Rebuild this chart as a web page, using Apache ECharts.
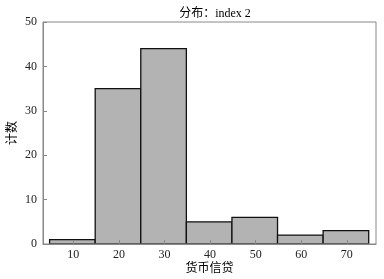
<!DOCTYPE html>
<html><head><meta charset="utf-8">
<script src="https://cdn.jsdelivr.net/npm/echarts@6/dist/echarts.min.js"></script>
<style>html,body{margin:0;padding:0;background:#fff}#c{width:384px;height:279px}</style>
</head><body><div id="c"></div>
<script>
const binEdges = [4.8, 14.8, 24.8, 34.8, 44.8, 54.8, 64.8, 74.8];
const counts = [1, 35, 44, 5, 6, 2, 3];
const xTicks = [10, 20, 30, 40, 50, 60, 70];
const yTicks = [0, 10, 20, 30, 40, 50];
const titleText = '分布：index 2';
const xName = '货币信贷';
const yName = '计数';

const data = counts.map((c, i) => [binEdges[i], binEdges[i + 1], c]);
const font = "'Liberation Serif','Noto Sans CJK SC',serif";
const axisColor = '#888';

const chart = echarts.init(document.getElementById('c'), null, {renderer: 'canvas'});
chart.setOption({
  animation: false,
  title: {text: titleText, left: 210, top: 3, textAlign: 'center',
    textStyle: {fontFamily: font, fontSize: 12, fontWeight: 'normal', color: '#000'}},
  grid: {left: 43, right: 8, top: 22, bottom: 35, outerBoundsMode: 'none', containLabel: false,
    show: true, borderColor: axisColor, borderWidth: 1, z: 10},
  xAxis: {
    type: 'value', min: 3.35, max: 76.4, z: 10,
    name: xName, nameLocation: 'middle', nameGap: 19, nameMoveOverlap: false,
    nameTextStyle: {fontFamily: font, fontSize: 12, color: '#000', verticalAlign: 'top'},
    axisLine: {show: true, lineStyle: {color: axisColor}},
    axisTick: {show: true, inside: true, length: 4, customValues: xTicks, lineStyle: {color: axisColor}},
    axisLabel: {customValues: xTicks, fontFamily: font, fontSize: 12, color: '#222', margin: 5},
    splitLine: {show: false}
  },
  yAxis: {
    type: 'value', min: 0, max: 50, interval: 10, z: 10,
    name: yName, nameLocation: 'middle', nameGap: 24, nameRotate: 90, nameMoveOverlap: false,
    nameTextStyle: {fontFamily: font, fontSize: 12, color: '#000', verticalAlign: 'bottom'},
    axisLine: {show: true, lineStyle: {color: axisColor}},
    axisTick: {show: true, inside: true, length: 4, lineStyle: {color: axisColor}},
    axisLabel: {fontFamily: font, fontSize: 12, color: '#222', margin: 6},
    splitLine: {show: false}
  },
  series: [{
    type: 'custom',
    data: data,
    encode: {x: [0, 1], y: 2},
    renderItem: function (params, api) {
      const p0 = api.coord([api.value(0), api.value(2)]);
      const p1 = api.coord([api.value(1), 0]);
      return {
        type: 'rect',
        shape: {x: p0[0], y: p0[1], width: p1[0] - p0[0], height: p1[1] - p0[1]},
        style: {fill: '#b3b3b3', stroke: '#111', lineWidth: 1.3}
      };
    }
  }]
});
</script></body></html>
